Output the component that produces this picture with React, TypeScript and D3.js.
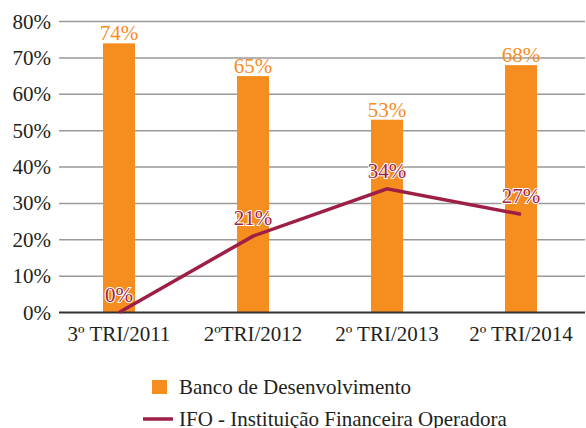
import React, { useEffect, useRef } from "react";
import * as d3 from "d3";

const categories = ["3º TRI/2011", "2ºTRI/2012", "2º TRI/2013", "2º TRI/2014"];
const bancoValues = [74, 65, 53, 68];
const ifoValues = [0, 21, 34, 27];
const yTicks = [0, 10, 20, 30, 40, 50, 60, 70, 80];
const legendLabels = ["Banco de Desenvolvimento", "IFO - Instituição Financeira Operadora"];

const ORANGE = "#F68D1F";
const WINE = "#9E1F45";
const FONT = "Liberation Serif";
const FS = 21;

const App = () => {
  const svgRef = useRef<SVGSVGElement>(null);

  useEffect(() => {
    const width = 586;
    const height = 428;
    const svg = d3.select(svgRef.current);
    svg.selectAll("*").remove();
    svg.attr("width", width).attr("height", height);

    const plotLeft = 59;
    const plotRight = 585;

    const x = d3.scaleBand().domain(categories).range([52, 588]);
    const y = d3.scaleLinear().domain([0, 80]).range([312.5, 21.5]);
    const barW = 32;
    const cx = (c: string) => (x(c) as number) + x.bandwidth() / 2;

    // grid lines
    svg
      .append("g")
      .selectAll("line")
      .data(yTicks.filter((t) => t > 0))
      .enter()
      .append("line")
      .attr("x1", plotLeft)
      .attr("x2", plotRight)
      .attr("y1", (d) => y(d))
      .attr("y2", (d) => y(d))
      .attr("stroke", "#9a9a9a")
      .attr("stroke-width", 1.5);

    // y labels
    svg
      .append("g")
      .selectAll("text")
      .data(yTicks)
      .enter()
      .append("text")
      .attr("x", 51)
      .attr("y", (d) => y(d) + 7)
      .attr("text-anchor", "end")
      .attr("font-family", FONT)
      .attr("font-size", FS)
      .attr("fill", "#231F20")
      .text((d) => `${d}%`);

    // bars
    svg
      .append("g")
      .selectAll("rect")
      .data(bancoValues)
      .enter()
      .append("rect")
      .attr("x", (d, i) => cx(categories[i]) - barW / 2)
      .attr("y", (d) => y(d))
      .attr("width", barW)
      .attr("height", (d) => y(0) - y(d))
      .attr("fill", ORANGE);

    // baseline
    svg
      .append("line")
      .attr("x1", plotLeft)
      .attr("x2", plotRight)
      .attr("y1", y(0))
      .attr("y2", y(0))
      .attr("stroke", "#333")
      .attr("stroke-width", 2);

    // bar labels
    svg
      .append("g")
      .selectAll("text")
      .data(bancoValues)
      .enter()
      .append("text")
      .attr("x", (d, i) => cx(categories[i]))
      .attr("y", (d) => y(d) - 3)
      .attr("text-anchor", "middle")
      .attr("font-family", FONT)
      .attr("font-size", FS)
      .attr("fill", ORANGE)
      .text((d) => `${d}%`);

    // line
    const line = d3
      .line<number>()
      .x((d, i) => cx(categories[i]))
      .y((d) => y(d));
    svg
      .append("path")
      .datum(ifoValues)
      .attr("d", line)
      .attr("fill", "none")
      .attr("stroke", WINE)
      .attr("stroke-width", 3.5);

    // line labels, white halo
    svg
      .append("g")
      .selectAll("text")
      .data(ifoValues)
      .enter()
      .append("text")
      .attr("x", (d, i) => cx(categories[i]))
      .attr("y", (d) => y(d) - 11)
      .attr("text-anchor", "middle")
      .attr("font-family", FONT)
      .attr("font-size", FS)
      .attr("fill", WINE)
      .attr("stroke", "#fff")
      .attr("stroke-width", 2)
      .attr("paint-order", "stroke")
      .text((d) => `${d}%`);

    // x labels
    svg
      .append("g")
      .selectAll("text")
      .data(categories)
      .enter()
      .append("text")
      .attr("x", (d) => cx(d))
      .attr("y", 341)
      .attr("text-anchor", "middle")
      .attr("font-family", FONT)
      .attr("font-size", FS)
      .attr("fill", "#231F20")
      .text((d) => d);

    // legend
    const lg = svg.append("g");
    lg.append("rect").attr("x", 152).attr("y", 380).attr("width", 15).attr("height", 14).attr("fill", ORANGE);
    lg.append("text")
      .attr("x", 179)
      .attr("y", 394)
      .attr("font-family", FONT)
      .attr("font-size", FS)
      .attr("fill", "#231F20")
      .text(legendLabels[0]);
    lg.append("line")
      .attr("x1", 143)
      .attr("x2", 173)
      .attr("y1", 419)
      .attr("y2", 419)
      .attr("stroke", WINE)
      .attr("stroke-width", 3.5);
    lg.append("text")
      .attr("x", 179)
      .attr("y", 426)
      .attr("font-family", FONT)
      .attr("font-size", FS)
      .attr("fill", "#231F20")
      .text(legendLabels[1]);
  }, []);

  return <svg ref={svgRef} style={{ position: "absolute", top: 0, left: 0 }}></svg>;
};

export default App;
